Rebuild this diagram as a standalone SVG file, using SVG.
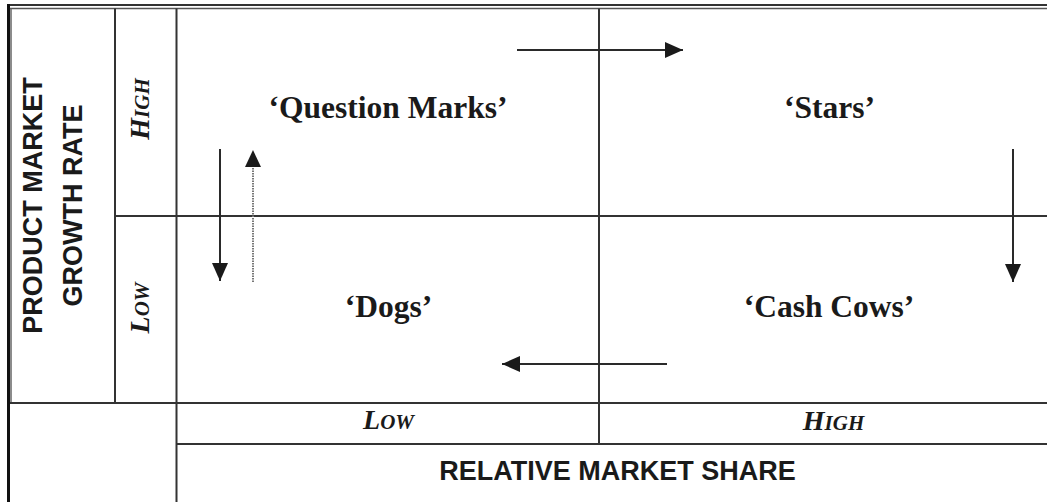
<svg xmlns="http://www.w3.org/2000/svg" width="1047" height="502" viewBox="0 0 1047 502">
  <style>
    .grid { stroke: #333; stroke-width: 2; fill: none; }
    .quad { font-family: "Liberation Serif", "Times New Roman", serif; font-weight: bold; font-size: 31.5px; fill: #1a1a1a; text-anchor: middle; }
    .lvl { font-family: "Liberation Serif", "Times New Roman", serif; font-weight: bold; font-style: italic; font-size: 28px; fill: #1a1a1a; text-anchor: middle; }
    .sc { font-size: 21px; }
    .axis { font-family: "Liberation Sans", Arial, sans-serif; font-weight: bold; font-size: 27px; fill: #1a1a1a; text-anchor: middle; }
    .arrow { stroke: #2a2a2a; stroke-width: 2; fill: none; }
    .dotted { stroke: #777; stroke-width: 2; stroke-dasharray: 1.5 1; fill: none; }
  </style>
  <defs>
    <marker id="head" viewBox="0 0 18 16" refX="18" refY="8" markerWidth="18" markerHeight="16" markerUnits="userSpaceOnUse" orient="auto">
      <path d="M0,0 L18,8 L0,16 z" fill="#1a1a1a"/>
    </marker>
  </defs>
  <rect width="1047" height="502" fill="#fff"/>

  <g id="frame">
    <line x1="7" y1="5" x2="1047" y2="5" class="grid"/>
    <line x1="10" y1="8.5" x2="1047" y2="8.5" stroke="#555" stroke-width="1.5"/>
    <line x1="8.5" y1="4" x2="8.5" y2="502" stroke="#111" stroke-width="3"/>
    <line x1="11" y1="8.5" x2="11" y2="403" stroke="#666" stroke-width="1.5"/>
    <line x1="10" y1="403" x2="1047" y2="403" class="grid"/>
    <line x1="115" y1="8.5" x2="115" y2="403" class="grid"/>
    <line x1="176.5" y1="8.5" x2="176.5" y2="502" class="grid"/>
    <line x1="115" y1="216" x2="1047" y2="216" class="grid"/>
    <line x1="599" y1="8.5" x2="599" y2="444" class="grid"/>
    <line x1="176.5" y1="444" x2="1047" y2="444" class="grid"/>
  </g>

  <g id="y-axis-label">
    <text class="axis" transform="translate(42,205.5) rotate(-90)">PRODUCT MARKET</text>
    <text class="axis" transform="translate(82,205.5) rotate(-90)">GROWTH RATE</text>
  </g>
  <g id="y-high">
    <text class="lvl" transform="translate(149,109) rotate(-90)">H<tspan class="sc">IGH</tspan></text>
  </g>
  <g id="y-low">
    <text class="lvl" transform="translate(149,308) rotate(-90)">L<tspan class="sc">OW</tspan></text>
  </g>

  <g id="question-marks">
    <text class="quad" x="388" y="118">‘Question Marks’</text>
  </g>
  <g id="stars">
    <text class="quad" x="829.5" y="118">‘Stars’</text>
  </g>
  <g id="dogs">
    <text class="quad" x="388.5" y="317">‘Dogs’</text>
  </g>
  <g id="cash-cows">
    <text class="quad" x="829" y="317">‘Cash Cows’</text>
  </g>

  <g id="x-low">
    <text class="lvl" x="388.5" y="429">L<tspan class="sc">OW</tspan></text>
  </g>
  <g id="x-high">
    <text class="lvl" x="833.5" y="430">H<tspan class="sc">IGH</tspan></text>
  </g>
  <g id="x-axis-label">
    <text class="axis" x="617.5" y="480">RELATIVE MARKET SHARE</text>
  </g>

  <g id="connectors">
    <line x1="517" y1="50" x2="683" y2="50" class="arrow" marker-end="url(#head)"/>
    <line x1="1013" y1="149" x2="1013" y2="282" class="arrow" marker-end="url(#head)"/>
    <line x1="667" y1="364" x2="502" y2="364" class="arrow" marker-end="url(#head)"/>
    <line x1="220" y1="149" x2="220" y2="281" class="arrow" marker-end="url(#head)"/>
    <line x1="253" y1="282" x2="253" y2="166" class="dotted"/>
    <path d="M245,167 L253,150 L261,167 z" fill="#1a1a1a"/>
  </g>
</svg>
